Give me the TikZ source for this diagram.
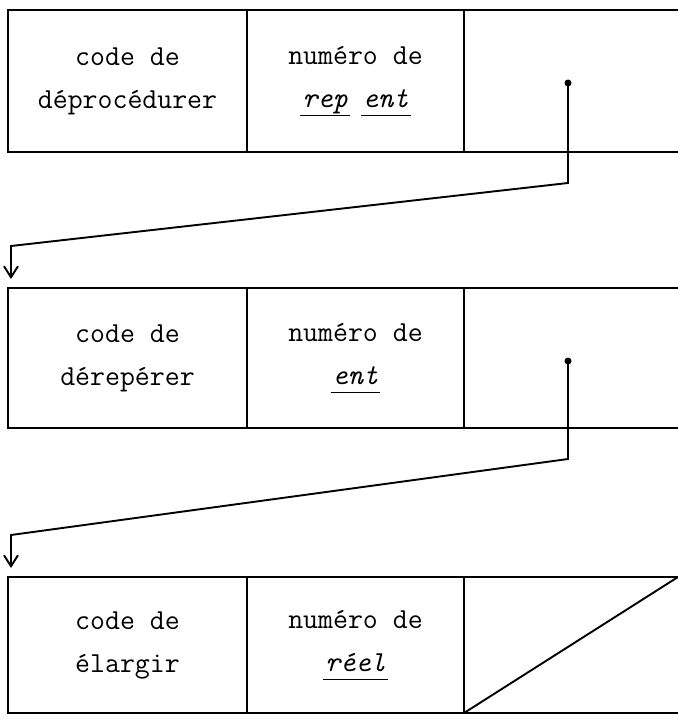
\documentclass[tikz,border=0pt]{standalone}
\usetikzlibrary{arrows.meta,positioning,calc}

\newcommand{\souligne}[1]{\begingroup\setbox0\hbox{\textit{#1}}%
	\rlap{\hspace{-2pt}\rule[-9pt]{\dimexpr\wd0+4pt\relax}{1.3pt}}\box0\endgroup}

\begin{document}
\begin{tikzpicture}[x=1pt, y=-1pt,
		trait/.style={line width=1.9pt, draw=black},
		cell/.style={trait, rectangle, outer sep=0pt, inner sep=0pt, minimum height=#1,
			align=center, font=\ttfamily\fontsize{29}{43}\selectfont},
		point/.style={circle, fill=black, inner sep=0pt, minimum size=7pt},
		fleche/.style={-{Straight Barb[length=11pt, width=14pt, line width=1.9pt]}}
		]
		
		% ==========================================
		% PAGE FRAME
		% ==========================================
		\useasboundingbox (0,0) rectangle (677,722);
		
		% ==========================================
		% THE THREE RECORDS (row / top / height / name / argument)
		% ==========================================
		\foreach \r/\top/\h/\nom/\arg in {
				1/10/142/déprocédurer/{\souligne{rep} \souligne{ent}},
				2/288/140/dérepérer/{\souligne{ent}},
				3/577/136/élargir/{\souligne{réel}}} {
			% Code cell and number cell, boxed
			\node[cell=\h, minimum width=239, anchor=north west] (code\r) at (8,\top) {code de\\\nom};
			\node[cell=\h, minimum width=217, right=0pt of code\r] (num\r) {numéro de\\\arg};
			% Pointer cell, open on the right side
			\node[cell=\h, draw=none, minimum width=214, right=0pt of num\r] (ptr\r) {};
			\draw[trait] (ptr\r.north west) -- (ptr\r.north east);
			\draw[trait] (ptr\r.south west) -- (ptr\r.south east);
		}
		
		% Last record has no successor: crossed pointer cell
		\draw[trait] (ptr3.south west) -- (ptr3.north east);
		
		% ==========================================
		% LINKS FROM ONE RECORD TO THE NEXT
		% ==========================================
		\foreach \r in {1,2} {
			\pgfmathtruncatemacro{\s}{\r+1}
			\node[point] (dot\r) at ($(ptr\r.north west)+(104,73)$) {};
			\coordinate (coude\r) at ($(dot\r |- ptr\r.south)+(0,31)$);
			\coordinate (pied\r) at ($(code\s.north west)+(3,-42)$);
			\coordinate (bout\r) at ($(code\s.north west)+(3,-9)$);
			\draw[trait, fleche] (dot\r.center) -- (coude\r) -- (pied\r) -- (bout\r);
		}
		
	\end{tikzpicture}
\end{document}
